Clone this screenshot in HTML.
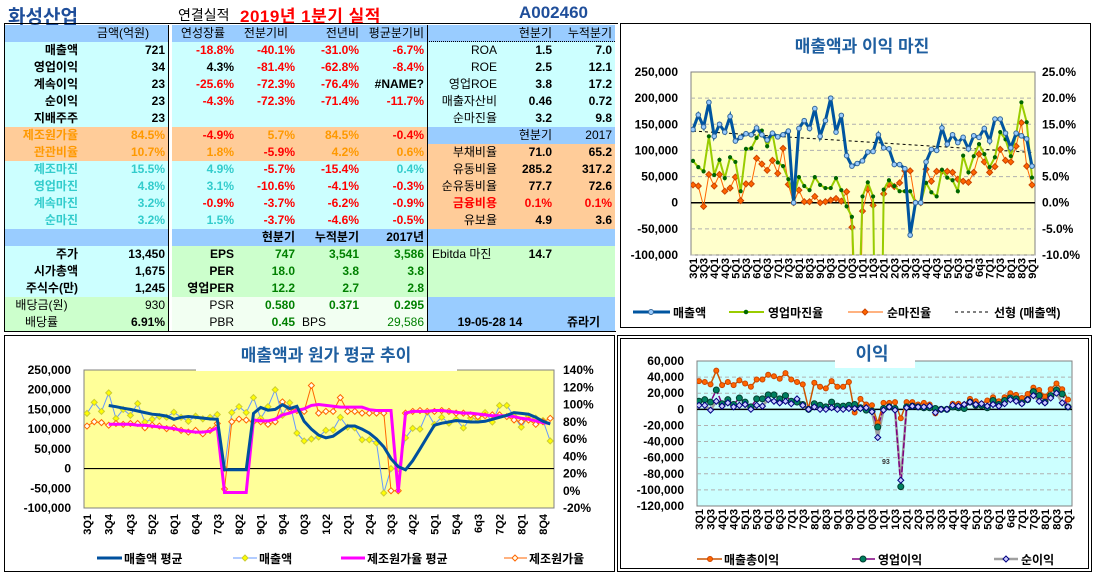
<!DOCTYPE html>
<html><head><meta charset="utf-8">
<style>
body{margin:0;width:1094px;height:576px;background:#fff;position:relative;overflow:hidden;font-family:"Liberation Sans","Noto Sans CJK KR",sans-serif}
.ttl{position:absolute;white-space:nowrap;font-weight:bold}
.g{position:absolute;left:5px;top:25px;display:grid;grid-template-columns:76px 87px 4px 65px 61px 64px 65px 73px 55px 60px;grid-auto-rows:17px;font:bold 12px "Liberation Sans","Noto Sans CJK KR",sans-serif;color:#000}
.g>div{line-height:17px;text-align:right;padding-right:3px;white-space:nowrap;overflow:hidden;box-sizing:border-box}
.c{background:#CCFFFF}.b{background:#99CCFF}.p{background:#FFCC99}.gr{background:#CCFFCC}.w{background:#F2FFF2}
.r{color:#FF0000}.t{color:#33CCCC}.o{color:#FF9900}.gn{color:#008000}
.n{font-weight:normal}.l{text-align:left!important;padding-left:4px}.m{text-align:center!important}
.s{background:#fff;border-left:1px solid #000;border-right:1px solid #000}
.bl{border-left:1px solid #000}.dt{border-bottom:1px dotted #000}
svg{position:absolute;left:0;top:0}
</style></head><body>
<div class="ttl" style="left:8px;top:2px;font-size:19px;color:#1F4E9A">화성산업</div>
<div class="ttl" style="left:178px;top:5px;font-size:14px;font-weight:normal">연결실적</div>
<div class="ttl" style="left:240px;top:2px;font-size:17px;color:#FF0000;letter-spacing:0.5px">2019년 1분기 실적</div>
<div class="ttl" style="left:519px;top:3px;font-size:17px;color:#1F4E9A">A002460</div>
<div style="position:absolute;left:4px;top:23px;width:614px;height:1px;background:#000"></div>
<div style="position:absolute;left:4px;top:24px;width:1px;height:308px;background:#000"></div>
<div style="position:absolute;left:4px;top:331px;width:612px;height:1px;background:#000"></div>

<div class="g">
<div class="b"></div><div class="b n m">금액(억원)</div><div class="s"></div><div class="b n m">연성장률</div><div class="b n m">전분기비</div><div class="b n">전년비</div><div class="b n">평균분기비</div><div class="b bl dt"></div><div class="b n dt">현분기</div><div class="b n dt">누적분기</div>

<div class="c">매출액</div><div class="c">721</div><div class="s"></div><div class="c r">-18.8%</div><div class="c r">-40.1%</div><div class="c r">-31.0%</div><div class="c r">-6.7%</div><div class="c n bl">ROA</div><div class="c">1.5</div><div class="c">7.0</div>

<div class="c">영업이익</div><div class="c">34</div><div class="s"></div><div class="c">4.3%</div><div class="c r">-81.4%</div><div class="c r">-62.8%</div><div class="c r">-8.4%</div><div class="c n bl">ROE</div><div class="c">2.5</div><div class="c">12.1</div>

<div class="c">계속이익</div><div class="c">23</div><div class="s"></div><div class="c r">-25.6%</div><div class="c r">-72.3%</div><div class="c r">-76.4%</div><div class="c">#NAME?</div><div class="c n bl">영업ROE</div><div class="c">3.8</div><div class="c">17.2</div>

<div class="c">순이익</div><div class="c">23</div><div class="s"></div><div class="c r">-4.3%</div><div class="c r">-72.3%</div><div class="c r">-71.4%</div><div class="c r">-11.7%</div><div class="c n bl">매출자산비</div><div class="c">0.46</div><div class="c">0.72</div>

<div class="c">지배주주</div><div class="c">23</div><div class="s"></div><div class="c"></div><div class="c"></div><div class="c"></div><div class="c"></div><div class="c n bl">순마진율</div><div class="c">3.2</div><div class="c">9.8</div>

<div class="p o">제조원가율</div><div class="p o">84.5%</div><div class="s"></div><div class="p r">-4.9%</div><div class="p o">5.7%</div><div class="p o">84.5%</div><div class="p r">-0.4%</div><div class="b bl"></div><div class="b n">현분기</div><div class="b n">2017</div>

<div class="p o">관관비율</div><div class="p o">10.7%</div><div class="s"></div><div class="p o">1.8%</div><div class="p r">-5.9%</div><div class="p o">4.2%</div><div class="p o">0.6%</div><div class="p n bl">부채비율</div><div class="p">71.0</div><div class="p">65.2</div>

<div class="c t">제조마진</div><div class="c t">15.5%</div><div class="s"></div><div class="c t">4.9%</div><div class="c r">-5.7%</div><div class="c r">-15.4%</div><div class="c t">0.4%</div><div class="p n bl">유동비율</div><div class="p">285.2</div><div class="p">317.2</div>

<div class="c t">영업마진</div><div class="c t">4.8%</div><div class="s"></div><div class="c t">3.1%</div><div class="c r">-10.6%</div><div class="c r">-4.1%</div><div class="c r">-0.3%</div><div class="p n bl">순유동비율</div><div class="p">77.7</div><div class="p">72.6</div>

<div class="c t">계속마진</div><div class="c t">3.2%</div><div class="s"></div><div class="c r">-0.9%</div><div class="c r">-3.7%</div><div class="c r">-6.2%</div><div class="c r">-0.9%</div><div class="p r bl">금융비용</div><div class="p r">0.1%</div><div class="p r">0.1%</div>

<div class="c t">순마진</div><div class="c t">3.2%</div><div class="s"></div><div class="c t">1.5%</div><div class="c r">-3.7%</div><div class="c r">-4.6%</div><div class="c r">-0.5%</div><div class="p n bl">유보율</div><div class="p">4.9</div><div class="p">3.6</div>

<div class="b"></div><div class="b"></div><div class="s"></div><div class="b"></div><div class="b">현분기</div><div class="b">누적분기</div><div class="b">2017년</div><div class="b bl"></div><div class="b"></div><div class="b"></div>

<div class="c">주가</div><div class="c">13,450</div><div class="s"></div><div class="gr">EPS</div><div class="gr gn">747</div><div class="gr gn">3,541</div><div class="gr gn">3,586</div><div class="gr n l bl">Ebitda 마진</div><div class="gr">14.7</div><div class="gr"></div>

<div class="c">시가총액</div><div class="c">1,675</div><div class="s"></div><div class="gr">PER</div><div class="gr gn">18.0</div><div class="gr gn">3.8</div><div class="gr gn">3.8</div><div class="gr bl"></div><div class="gr"></div><div class="gr"></div>

<div class="c">주식수(만)</div><div class="c">1,245</div><div class="s"></div><div class="gr">영업PER</div><div class="gr gn">12.2</div><div class="gr gn">2.7</div><div class="gr gn">2.8</div><div class="gr bl"></div><div class="gr"></div><div class="gr"></div>

<div class="gr n m">배당금(원)</div><div class="gr n">930</div><div class="s"></div><div class="w n">PSR</div><div class="w gn">0.580</div><div class="w gn">0.371</div><div class="w gn">0.295</div><div class="b bl"></div><div class="b"></div><div class="b"></div>

<div class="gr n m">배당률</div><div class="gr">6.91%</div><div class="s"></div><div class="w n">PBR</div><div class="w gn">0.45</div><div class="w n l">BPS</div><div class="w gn n">29,586</div><div class="b bl m" style="grid-column:span 2">19-05-28 14</div><div class="b m">쥬라기</div>
</div>

<svg id="charts" width="1094" height="576"></svg>

<script>
// ---------- DATA ----------
const salesK = [140,168,145,192,127,150,135,165,118,125,132,130,143,130,120,133,126,130,137,0,142,157,142,180,127,157,200,135,167,90,70,75,80,97,98,130,105,103,73,73,65,-62,0,0,78,102,100,143,112,130,115,125,103,128,125,142,118,160,160,133,105,133,128,122,70];
const opMarginPct = [8.0,6.8,6.0,12.7,5.3,8.2,4.7,8.7,7.8,2.2,10.3,10.4,12.4,13.8,10.8,13.2,7.7,7.0,4.5,1.0,4.9,3.2,2.4,4.9,3.4,2.8,2.8,4.7,2.4,-0.7,-2.7,-31,1.2,3.9,1.2,-74,2.5,4.3,3.2,2.2,2.2,2.2,0,0,3.8,2.0,1.2,6.3,4.8,4.3,2.2,9.0,5.8,8.9,11.2,9.3,6.8,8.7,13.5,12.1,8.9,13.0,19.2,15.4,4.8];
const netMarginPct = [3.4,3.2,-0.7,5.4,3.2,5.4,2.2,2.8,4.9,0.4,3.6,3.6,8.5,7.4,6.2,8.1,5.6,10.4,3.5,0.0,2.4,0.2,0.2,1.2,0.0,0.2,0.5,0.8,0.3,2.1,-4.7,-50,-1.6,2.6,-0.5,-68,1.7,3.5,3.1,3.8,6.1,6.1,0,0,6.4,4.1,6.0,6.0,6.0,5.8,4.5,4.1,3.9,5.8,9.3,7.8,5.8,6.9,10.2,8.1,7.8,10.8,15.3,7.0,3.4];
const salesAvgK = [null,null,null,160,157,153,150,146,142,138,136,133,125,130,132,130,128,126,125,-3,-3,-3,-3,140,155,148,150,162,152,158,120,100,85,78,82,95,108,108,100,90,75,55,25,5,-3,20,50,80,110,115,118,122,120,118,118,120,125,130,135,142,140,138,130,120,113];
const costRatioPct = [75,80,79,76,78,77,78,78,73,76,75,72,73,70,68,70,66,70,78,2,80,83,82,80,80,77,80,103,95,93,92,122,90,92,92,108,92,92,90,90,90,90,0,0,90,92,93,92,92,93,92,90,90,88,86,87,88,88,86,82,80,82,77,80,84];
const costAvgPct = [null,null,null,77,77,77,77,76,76,75,74,73,72,70,69,68,68,69,73,-2,-2,-2,-2,82,81,81,83,88,90,93,95,99,100,99,98,97,97,97,97,94,93,93,93,-2,90,92,92,92,93,93,92,91,90,90,89,88,87,87,87,86,84,83,81,79,78];
const grossProfitK = [35,34,31,48,30,34,30,36,32,28,37,37,43,41,38,45,37,34,31,1,33,28,26,35,28,28,34,-4,13,6,5,-17,8,8,9,-11,9,9,6,8,6,-5,0,0,7,7,6,13,10,7,11,15,10,15,20,18,14,19,27,24,16,25,32,25,12];
const opProfitK = [10,12,9,24,7,12,6,14,9,3,13,13,18,18,13,17,10,9,6,0,7,5,3,9,4,4,5,6,2,-1,-2,-22,1,3,1,-96,3,4,3,2,2,1,0,0,3,2,1,9,5,5,2,11,6,11,14,13,8,12,22,17,9,17,24,19,3];
const netProfitK = [5,5,-1,10,4,8,3,5,6,0,5,4,12,10,8,10,7,13,5,0,3,0,0,2,0,0,1,1,1,2,-3,-35,-1,3,-1,-88,2,4,3,3,4,-4,0,0,5,4,6,9,6,7,4,6,4,7,12,10,7,12,17,10,8,14,20,8,3];
const c1LeftTicks = [250,200,150,100,50,0,-50,-100];
const c1LeftLabels = ['250,000','200,000','150,000','100,000','50,000','0','-50,000','-100,000'];
const c1RightLabels = ['25.0%','20.0%','15.0%','10.0%','5.0%','0.0%','-5.0%','-10.0%'];
const c2RightTicks = [140,120,100,80,60,40,20,0,-20];
const c2RightLabels = ['140%','120%','100%','80%','60%','40%','20%','0%','-20%'];
const c3Ticks = [60,40,20,0,-20,-40,-60,-80,-100,-120];
const c3Labels = ['60,000','40,000','20,000','0','-20,000','-40,000','-60,000','-80,000','-100,000','-120,000'];
const quarterLabels = [];
for (let i = 0; i < 65; i++) { quarterLabels.push(((3 + Math.floor(i / 4)) % 10) + 'Q' + (i % 4 + 1)); }
quarterLabels[54] = '6q3';

// ---------- HELPERS ----------
const NS = 'http://www.w3.org/2000/svg';
const svg = document.getElementById('charts');
const FONT = '"Liberation Sans","Noto Sans CJK KR",sans-serif';
function el(tag, attrs, parent) {
  const e = document.createElementNS(NS, tag);
  for (const k in attrs) e.setAttribute(k, attrs[k]);
  (parent || svg).appendChild(e);
  return e;
}
function txt(s, attrs, parent) {
  const e = el('text', Object.assign({'font-family': FONT, 'font-weight': 'bold', 'font-size': 12}, attrs), parent);
  e.textContent = s;
  return e;
}
function pathD(arr, xf, yf) {
  let d = '', pen = false;
  arr.forEach((v, i) => {
    if (v === null) { pen = false; return; }
    d += (pen ? 'L' : 'M') + xf(i).toFixed(1) + ' ' + yf(v).toFixed(1);
    pen = true;
  });
  return d;
}
function marker(shape, x, y, s, fill, stroke, parent) {
  let m;
  if (shape === 'diamond') m = el('path', {d: `M${x} ${y - s}L${x + s} ${y}L${x} ${y + s}L${x - s} ${y}Z`, fill: fill, stroke: stroke, 'stroke-width': 1}, parent);
  else m = el('circle', {cx: x, cy: y, r: s, fill: fill, stroke: stroke, 'stroke-width': 1}, parent);
  return m;
}
const defs = el('defs', {});
function clip(id, x, y, w, h) {
  const cp = el('clipPath', {id: id}, defs);
  el('rect', {x: x, y: y, width: w, height: h}, cp);
}

// ---------- PANELS ----------
let fr = el('rect', {x: 620.5, y: 23.5, width: 470, height: 304, fill: '#fff', stroke: '#000', 'stroke-width': 1});


fr = el('rect', {x: 4.5, y: 335.5, width: 610, height: 236, fill: '#fff', stroke: '#000', 'stroke-width': 1});


fr = el('rect', {x: 617.5, y: 335.5, width: 474, height: 236, fill: '#fff', stroke: '#000', 'stroke-width': 1});


fr = el('rect', {x: 620.5, y: 338.5, width: 468, height: 230, fill: 'none', stroke: '#000', 'stroke-width': 1});



// ---------- CHART 1 ----------
const P1 = {l: 691, r: 1035, t: 72, b: 255};
const x1 = i => 693 + i * (1032 - 693) / 64;
const y1L = v => P1.t + (250 - v) / 350 * (P1.b - P1.t);
const y1R = p => P1.t + (25 - p) / 35 * (P1.b - P1.t);
clip('cp1', P1.l, P1.t, P1.r - P1.l, P1.b - P1.t);
const g1 = el('g', {});


let t = txt('매출액과 이익 마진', {x: 862, y: 52, 'text-anchor': 'middle', 'font-size': 17, fill: '#1F5FA0'}, g1);


let bg = el('rect', {x: P1.l, y: P1.t, width: P1.r - P1.l, height: P1.b - P1.t, fill: '#FFFFCC', stroke: '#808080'}, g1);


c1LeftTicks.forEach((v, k) => {
  const y = y1L(v);
  if (v !== 0 && k > 0) {
    const gl = el('line', {x1: P1.l, x2: P1.r, y1: y, y2: y, stroke: '#B0B0B0', 'stroke-dasharray': '4 3'}, g1);
    
    
  }
  const a = txt(c1LeftLabels[k], {x: 678, y: y + 4, 'text-anchor': 'end'}, g1);
  
  
  const b = txt(c1RightLabels[k], {x: 1042, y: y + 4}, g1);
  
  
});
let zl = el('line', {x1: P1.l, x2: P1.r, y1: y1L(0), y2: y1L(0), stroke: '#000', 'stroke-width': 1.5}, g1);


quarterLabels.forEach((s, i) => {
  if (i % 2) return;
  const xx = x1(i) + 4;
  const a = txt(s, {x: xx, y: 258, 'text-anchor': 'end', 'font-size': 11, transform: `rotate(-90 ${xx} 258)`}, g1);
  
  
});
const pg1 = el('g', {'clip-path': 'url(#cp1)'}, g1);
let sx = 0, sy = 0, sxx = 0, sxy = 0;
salesK.forEach((v, i) => { sx += i; sy += v; sxx += i * i; sxy += i * v; });
const nS = salesK.length, slope = (nS * sxy - sx * sy) / (nS * sxx - sx * sx), icpt = (sy - slope * sx) / nS;
let ln = el('line', {x1: x1(0), y1: y1L(icpt), x2: x1(nS - 1), y2: y1L(icpt + slope * (nS - 1)), stroke: '#000', 'stroke-dasharray': '3 3'}, pg1);


ln = el('path', {d: pathD(netMarginPct, x1, y1R), fill: 'none', stroke: '#FF6600', 'stroke-width': 1}, pg1);


netMarginPct.forEach((v, i) => {
  const m = marker('diamond', x1(i), y1R(v), 3, '#FF6600', '#CC4400', pg1);
  
  
});
ln = el('path', {d: pathD(opMarginPct, x1, y1R), fill: 'none', stroke: '#99CC00', 'stroke-width': 2}, pg1);


opMarginPct.forEach((v, i) => {
  const m = marker('circle', x1(i), y1R(v), 1.6, '#006600', '#006600', pg1);
  
  
});
ln = el('path', {d: pathD(salesK, x1, y1L), fill: 'none', stroke: '#0055A0', 'stroke-width': 3}, pg1);


salesK.forEach((v, i) => {
  const m = marker('circle', x1(i), y1L(v), 2.3, '#99CCFF', '#336699', pg1);
  
  
});
let lg = el('line', {x1: 633, x2: 670, y1: 312, y2: 312, stroke: '#0055A0', 'stroke-width': 3}, g1);
 
lg = marker('circle', 651, 312, 2.5, '#99CCFF', '#336699', g1);
 
t = txt('매출액', {x: 673, y: 317}, g1);
 
lg = el('line', {x1: 729, x2: 764, y1: 312, y2: 312, stroke: '#99CC00', 'stroke-width': 2}, g1);
 
lg = marker('circle', 746, 312, 1.8, '#006600', '#006600', g1);
 
t = txt('영업마진율', {x: 768, y: 317}, g1);
 
lg = el('line', {x1: 848, x2: 883, y1: 312, y2: 312, stroke: '#FF6600', 'stroke-width': 1}, g1);
 
lg = marker('diamond', 865, 312, 3, '#FF6600', '#CC4400', g1);
 
t = txt('순마진율', {x: 887, y: 317}, g1);
 
lg = el('line', {x1: 955, x2: 989, y1: 312, y2: 312, stroke: '#000', 'stroke-dasharray': '3 3'}, g1);
 
t = txt('선형 (매출액)', {x: 994, y: 317}, g1);
 

// ---------- CHART 2 ----------
const P2 = {l: 84, r: 554, t: 370, b: 508};
const x2 = i => 87 + i * (543 - 87) / 63;
const y2L = v => P2.t + (250 - v) / 350 * (P2.b - P2.t);
const y2R = p => P2.t + (140 - p) / 160 * (P2.b - P2.t);
clip('cp2', P2.l, P2.t, P2.r - P2.l, P2.b - P2.t);
const g2 = el('g', {});


bg = el('rect', {x: P2.l, y: P2.t, width: P2.r - P2.l, height: P2.b - P2.t, fill: '#FFFF99', stroke: '#808080'}, g2);


bg = el('rect', {x: 196, y: 338, width: 261, height: 33, fill: '#fff'}, g2);


t = txt('매출액과 원가 평균 추이', {x: 326, y: 361, 'text-anchor': 'middle', 'font-size': 17, fill: '#1F5FA0'}, g2);


c1LeftTicks.forEach((v, k) => {
  const a = txt(c1LeftLabels[k], {x: 71, y: y2L(v) + 4, 'text-anchor': 'end'}, g2);
  
  
});
c2RightTicks.forEach((p, k) => {
  const a = txt(c2RightLabels[k], {x: 563, y: y2R(p) + 4}, g2);
  
  
});
zl = el('line', {x1: P2.l, x2: P2.r, y1: y2L(0), y2: y2L(0), stroke: '#000', 'stroke-width': 1.2}, g2);


quarterLabels.forEach((s, i) => {
  if (i % 3 || i > 63) return;
  const xx = x2(i) + 4;
  const a = txt(s, {x: xx, y: 514, 'text-anchor': 'end', 'font-size': 11, transform: `rotate(-90 ${xx} 514)`}, g2);
  
  
});
const pg2 = el('g', {'clip-path': 'url(#cp2)'}, g2);
ln = el('path', {d: pathD(salesK, x2, y2L), fill: 'none', stroke: '#6699FF', 'stroke-width': 1}, pg2);


salesK.forEach((v, i) => {
  const m = marker('diamond', x2(i), y2L(v), 3, '#FFFF00', '#CCCC33', pg2);
  
  
});
ln = el('path', {d: pathD(costRatioPct, x2, y2R), fill: 'none', stroke: '#FF6600', 'stroke-width': 1}, pg2);


costRatioPct.forEach((v, i) => {
  const m = marker('diamond', x2(i), y2R(v), 3, '#FFFFEE', '#FF6600', pg2);
  
  
});
ln = el('path', {d: pathD(costAvgPct, x2, y2R), fill: 'none', stroke: '#FF00FF', 'stroke-width': 3}, pg2);


ln = el('path', {d: pathD(salesAvgK, x2, y2L), fill: 'none', stroke: '#00509E', 'stroke-width': 3}, pg2);


lg = el('line', {x1: 97, x2: 122, y1: 558, y2: 558, stroke: '#00509E', 'stroke-width': 3}, g2);
 
t = txt('매출액 평균', {x: 124, y: 563}, g2);
 
lg = el('line', {x1: 233, x2: 257, y1: 558, y2: 558, stroke: '#6699FF', 'stroke-width': 1}, g2);
 
lg = marker('diamond', 245, 558, 3, '#FFFF00', '#CCCC33', g2);
 
t = txt('매출액', {x: 259, y: 563}, g2);
 
lg = el('line', {x1: 341, x2: 365, y1: 558, y2: 558, stroke: '#FF00FF', 'stroke-width': 3}, g2);
 
t = txt('제조원가율 평균', {x: 367, y: 563}, g2);
 
lg = el('line', {x1: 504, x2: 527, y1: 558, y2: 558, stroke: '#FF6600', 'stroke-width': 1}, g2);
 
lg = marker('diamond', 515, 558, 3, '#FFFFEE', '#FF6600', g2);
 
t = txt('제조원가율', {x: 529, y: 563}, g2);
 

// ---------- CHART 3 ----------
const P3 = {l: 697, r: 1072, t: 361, b: 506};
const x3 = i => 699 + i * (1068 - 699) / 64;
const y3 = v => P3.t + (60 - v) / 180 * (P3.b - P3.t);
clip('cp3', P3.l, P3.t, P3.r - P3.l, P3.b - P3.t);
const g3 = el('g', {});


bg = el('rect', {x: P3.l, y: P3.t, width: P3.r - P3.l, height: P3.b - P3.t, fill: '#CCFFFF', stroke: '#808080'}, g3);


bg = el('rect', {x: 835, y: 340, width: 80, height: 28, fill: '#fff'}, g3);


t = txt('이익', {x: 872, y: 360, 'text-anchor': 'middle', 'font-size': 18, fill: '#1F5FA0'}, g3);


c3Ticks.forEach((v, k) => {
  const y = y3(v);
  if (v !== 0 && k > 0 && k < c3Ticks.length - 1) {
    const gl = el('line', {x1: P3.l, x2: P3.r, y1: y, y2: y, stroke: '#B0B0B0', 'stroke-dasharray': '4 3'}, g3);
    
    
  }
  const a = txt(c3Labels[k], {x: 684, y: y + 4, 'text-anchor': 'end'}, g3);
  
  
});
zl = el('line', {x1: P3.l, x2: P3.r, y1: y3(0), y2: y3(0), stroke: '#000', 'stroke-width': 1.5}, g3);


quarterLabels.forEach((s, i) => {
  if (i % 2) return;
  const xx = x3(i) + 4;
  const a = txt(s, {x: xx, y: 509, 'text-anchor': 'end', 'font-size': 11, transform: `rotate(-90 ${xx} 509)`}, g3);
  
  
});
const pg3 = el('g', {'clip-path': 'url(#cp3)'}, g3);
ln = el('path', {d: pathD(netProfitK, x3, y3), fill: 'none', stroke: '#A0A0A0', 'stroke-width': 2.5}, pg3);


ln = el('path', {d: pathD(opProfitK, x3, y3), fill: 'none', stroke: '#800080', 'stroke-width': 1.5, 'stroke-dasharray': '6 2'}, pg3);


ln = el('path', {d: pathD(grossProfitK, x3, y3), fill: 'none', stroke: '#CC5500', 'stroke-width': 1.5}, pg3);


grossProfitK.forEach((v, i) => {
  const m = marker('circle', x3(i), y3(v), 2.5, '#FF6600', '#CC4400', pg3);
  
  
});
opProfitK.forEach((v, i) => {
  const m = marker('circle', x3(i), y3(v), 3, '#008060', '#004030', pg3);
  
  
});
netProfitK.forEach((v, i) => {
  const m = marker('diamond', x3(i), y3(v), 3, '#CCCCFF', '#000080', pg3);
  
  
});
t = txt('93', {x: 882, y: 464, 'font-size': 7, fill: '#333'}, g3);


lg = el('line', {x1: 697, x2: 722, y1: 559, y2: 559, stroke: '#CC5500', 'stroke-width': 1.5}, g3);
 
lg = marker('circle', 710, 559, 2.5, '#FF6600', '#CC4400', g3);
 
t = txt('매출총이익', {x: 724, y: 564}, g3);
 
lg = el('line', {x1: 852, x2: 875, y1: 559, y2: 559, stroke: '#800080', 'stroke-width': 1.5}, g3);
 
lg = marker('circle', 863, 559, 3, '#008060', '#004030', g3);
 
t = txt('영업이익', {x: 878, y: 564}, g3);
 
lg = el('line', {x1: 994, x2: 1018, y1: 559, y2: 559, stroke: '#A0A0A0', 'stroke-width': 2.5}, g3);
 
lg = marker('diamond', 1006, 559, 3, '#CCCCFF', '#000080', g3);
 
t = txt('순이익', {x: 1021, y: 564}, g3);
 
</script>
</body></html>
